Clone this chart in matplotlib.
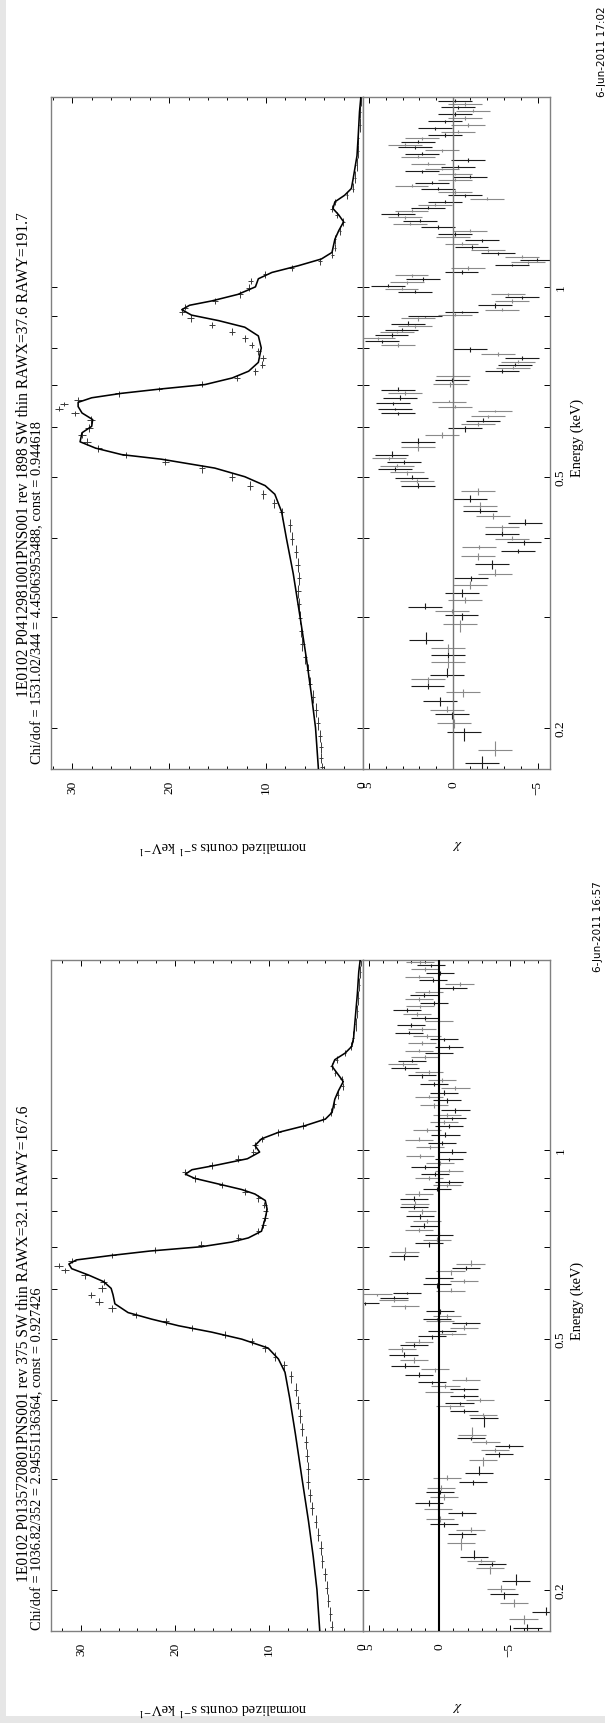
import numpy as np
import matplotlib
matplotlib.use("Agg")
import matplotlib.pyplot as plt
from matplotlib.ticker import FixedLocator, MultipleLocator, FixedFormatter, NullLocator, NullFormatter
from matplotlib.patches import Rectangle

plt.rcParams['font.family'] = ['Liberation Serif', 'DejaVu Serif']
plt.rcParams['mathtext.fontset'] = 'stix'
plt.rcParams['axes.unicode_minus'] = True

# ---------------------------------------------------------------- texts
top_title = "1E0102 P0412981001PNS001 rev 1898 SW thin RAWX=37.6 RAWY=191.7"
top_fit = "Chi/dof = 1531.02/344 = 4.45063953488, const = 0.944618"
top_date = "6-Jun-2011 17:02"
bot_title = "1E0102 P0135720801PNS001 rev 375 SW thin RAWX=32.1 RAWY=167.6"
bot_fit = "Chi/dof = 1036.82/352 = 2.94551136364, const = 0.927426"
bot_date = "6-Jun-2011 16:57"
ylabel_text = r"normalized counts s$^{-1}$ keV$^{-1}$"
chi_label_text = r"$\chi$"
xlabel_text = "Energy (keV)"

# ---------------------------------------------------------------- axis values
energy_ticks = [0.2, 0.3, 0.4, 0.5, 0.6, 0.7, 0.8, 0.9, 1.0, 2.0]
energy_tick_labels = ["0.2", "", "", "0.5", "", "", "", "", "1", ""]
energy_range = (0.172, 2.0)
top_counts_range = (32.2, 0.0)
top_chi_range = (5.34, -5.72)
bot_counts_range = (33.2, 0.0)
bot_chi_range = (5.43, -7.86)

# ---------------------------------------------------------------- top panel (rev 1898)
top_model_E = [0.172, 0.200, 0.224, 0.255, 0.300, 0.351, 0.399, 0.440, 0.469, 0.484,
               0.500, 0.516, 0.533, 0.542, 0.555, 0.568, 0.587, 0.601, 0.616, 0.631,
               0.646, 0.656, 0.667, 0.678, 0.689, 0.700, 0.717, 0.735, 0.759, 0.800,
               0.836, 0.863, 0.884, 0.902, 0.920, 0.935, 0.950, 0.973, 1.000, 1.030,
               1.054, 1.080, 1.107, 1.134, 1.190, 1.228, 1.268, 1.300, 1.331, 1.364,
               1.397, 1.432, 1.489, 1.614, 1.749, 1.895, 2.000]
top_model_counts = [4.6, 4.9, 5.3, 5.8, 6.5, 7.2, 7.9, 8.4, 9.1, 10.1,
                    12.2, 15.3, 20.8, 24.9, 27.6, 29.2, 29.0, 28.0, 27.9, 29.0,
                    29.4, 29.4, 28.0, 24.9, 20.8, 16.3, 13.5, 11.8, 10.8, 10.5,
                    10.8, 12.2, 14.9, 17.7, 18.7, 17.9, 15.6, 12.9, 11.1, 10.8,
                    9.4, 6.7, 4.3, 3.2, 2.9, 2.5, 2.0, 2.5, 3.1, 2.9,
                    1.9, 1.2, 1.0, 0.62, 0.48, 0.36, 0.22]

top_data_E = [0.1731, 0.1788, 0.1861, 0.1937, 0.2032, 0.2133, 0.2239, 0.2349, 0.2465, 0.2587,
              0.2714, 0.2848, 0.2988, 0.3136, 0.3291, 0.3453, 0.3623, 0.3802, 0.3990, 0.4188,
              0.4394, 0.4538, 0.4686, 0.4840, 0.4995, 0.5161, 0.5285, 0.5415, 0.5546, 0.5681,
              0.5821, 0.5963, 0.6158, 0.6307, 0.6410, 0.6514, 0.6620, 0.6781, 0.6891, 0.7002,
              0.7172, 0.7351, 0.7526, 0.7710, 0.7898, 0.8089, 0.8286, 0.8489, 0.8695, 0.8909,
              0.9128, 0.9273, 0.9499, 0.9732, 0.9968, 1.0212, 1.0462, 1.0715, 1.0977, 1.1243,
              1.1519, 1.1902, 1.2284, 1.2689, 1.2995, 1.3310, 1.3636, 1.3969, 1.4312, 1.4894,
              1.5629, 1.6403, 1.7213, 1.8061, 1.8950, 1.9730]
top_data_counts = [4.26, 4.33, 4.30, 4.43, 4.60, 4.88, 5.12, 5.46, 5.64, 5.98,
                   6.25, 6.39, 6.50, 6.60, 6.67, 6.60, 6.74, 6.94, 7.35, 7.53,
                   8.38, 9.14, 10.3, 11.65, 13.5, 16.6, 20.4, 24.5, 27.3, 28.5,
                   29.0, 28.3, 28.1, 29.7, 31.4, 30.9, 29.4, 25.2, 21.1, 16.6,
                   13.0, 11.1, 10.4, 10.3, 10.8, 11.5, 12.2, 13.5, 15.6, 17.8,
                   18.7, 18.4, 15.3, 12.7, 11.8, 11.6, 10.1, 7.35, 4.43, 3.16,
                   2.89, 2.89, 2.37, 2.03, 2.71, 3.23, 2.89, 1.68, 1.00, 0.82,
                   0.65, 0.48, 0.48, 0.31, 0.31, 0.21]
top_data_err = [0.20, 0.20, 0.20, 0.20, 0.20, 0.21, 0.21, 0.21, 0.21, 0.22,
                0.22, 0.22, 0.22, 0.22, 0.22, 0.22, 0.23, 0.23, 0.23, 0.23,
                0.24, 0.25, 0.26, 0.28, 0.30, 0.33, 0.36, 0.38, 0.40, 0.40,
                0.40, 0.40, 0.40, 0.40, 0.42, 0.42, 0.40, 0.38, 0.36, 0.33,
                0.30, 0.28, 0.28, 0.28, 0.28, 0.28, 0.29, 0.30, 0.31, 0.32,
                0.33, 0.33, 0.32, 0.30, 0.28, 0.28, 0.27, 0.24, 0.18, 0.15,
                0.15, 0.15, 0.14, 0.13, 0.14, 0.15, 0.15, 0.12, 0.10, 0.09,
                0.08, 0.07, 0.07, 0.06, 0.06, 0.05]

top_res_E = [0.1759, 0.1846, 0.1968, 0.2032, 0.2099, 0.2133, 0.2203, 0.2275, 0.2331, 0.2385,
             0.2424, 0.2544, 0.2606, 0.2671, 0.2758, 0.2917, 0.3013, 0.3062, 0.3111, 0.3187,
             0.3265, 0.3371, 0.3453, 0.3509, 0.3636, 0.3743, 0.3815, 0.3865, 0.3941, 0.3990,
             0.4055, 0.4154, 0.4221, 0.4337, 0.4408, 0.4501, 0.4611, 0.4745, 0.4840, 0.4918,
             0.4982, 0.5078, 0.5144, 0.5201, 0.5285, 0.5346, 0.5415, 0.5572, 0.5681, 0.5821,
             0.5963, 0.6060, 0.6138, 0.6237, 0.6307, 0.6358, 0.6410, 0.6441, 0.6546, 0.6568,
             0.6673, 0.6781, 0.6869, 0.7026, 0.7117, 0.7233, 0.7351, 0.7446, 0.7530, 0.7614,
             0.7713, 0.7834, 0.7961, 0.8089, 0.8194, 0.8286, 0.8380, 0.8489, 0.8557, 0.8654,
             0.8738, 0.8909, 0.8981, 0.9024, 0.9128, 0.9200, 0.9348, 0.9499, 0.9623, 0.9732,
             0.9811, 0.9938, 1.0049, 1.0163, 1.0295, 1.0428, 1.0546, 1.0715, 1.0837, 1.0942,
             1.1048, 1.1156, 1.1298, 1.1426, 1.1556, 1.1706, 1.1858, 1.1992, 1.2127, 1.2284,
             1.2444, 1.2585, 1.2728, 1.2891, 1.3058, 1.3206, 1.3356, 1.3486, 1.3636, 1.3790,
             1.3969, 1.4151, 1.4312, 1.4473, 1.4614, 1.4779, 1.4947, 1.5092, 1.5239, 1.5382,
             1.5505, 1.5680, 1.5883, 1.6089, 1.6271, 1.6452, 1.6667, 1.6801, 1.6992, 1.7213,
             1.7408, 1.7630, 1.7830, 1.8061, 1.8295, 1.8503, 1.8801, 1.9011, 1.9258, 1.9508,
             1.9730]
top_res_chi = [-1.68, -2.47, -0.65, -0.06, 0.10, 0.35, 0.79, -0.59, 1.52, 1.48,
               0.39, 0.30, 0.30, 0.30, 1.62, -0.39, -0.49, 0.10, 1.68, -0.69,
               -0.53, -0.99, -1.05, -2.47, -2.27, -1.48, -3.85, -1.52, -4.18, -3.49,
               -2.86, -2.86, -4.24, -2.37, -1.58, -1.58, -0.99, -1.48, 2.07, 2.17,
               2.47, 2.76, 3.45, 3.35, 2.90, 3.81, 3.65, 2.07, 2.07, 0.65,
               -0.69, -1.48, -1.78, -2.07, 3.25, -2.47, 3.45, -0.10, 3.55, 0.26,
               3.16, 2.86, 3.25, 0.20, 0.10, 0.00, -2.86, -3.55, -3.65, -3.85,
               -4.04, -2.66, -0.99, 3.25, 4.24, 4.44, 3.65, 3.35, 3.06, 2.27,
               2.66, 2.07, 1.68, -0.10, -0.49, -2.86, -2.47, -3.45, -4.04, -3.25,
               2.27, 3.06, 3.85, 2.76, 1.78, 2.47, -0.49, -0.89, -3.45, -4.44,
               -4.93, -4.04, -2.66, -2.07, -1.08, -0.49, -1.68, 0.00, -0.10, -0.99,
               0.89, 2.56, 1.97, 2.86, 3.25, 2.47, 1.48, 1.08, 0.49, -1.97,
               -0.69, -0.10, 0.89, 2.47, 1.28, -0.10, -0.99, -0.10, 1.87, 0.69,
               -0.30, 1.48, -0.89, 2.07, 1.87, 0.69, 2.27, 2.86, 2.07, 1.87,
               0.49, -0.30, 1.08, -0.89, 0.49, -0.69, -0.10, -1.18, -0.30, -0.69,
               -0.10]

# ---------------------------------------------------------------- bottom panel (rev 375)
bot_model_E = [0.172, 0.200, 0.226, 0.257, 0.301, 0.354, 0.403, 0.443, 0.465, 0.484,
               0.500, 0.513, 0.525, 0.538, 0.551, 0.569, 0.588, 0.602, 0.617, 0.632,
               0.647, 0.658, 0.668, 0.679, 0.690, 0.701, 0.713, 0.724, 0.742, 0.778,
               0.804, 0.830, 0.850, 0.864, 0.879, 0.900, 0.914, 0.929, 0.944, 0.967,
               0.991, 1.015, 1.040, 1.065, 1.091, 1.118, 1.145, 1.202, 1.241, 1.282,
               1.313, 1.356, 1.389, 1.423, 1.458, 1.505, 1.632, 1.768, 1.916, 2.000]
bot_model_counts = [4.6, 4.9, 5.3, 5.8, 6.5, 7.2, 7.8, 8.3, 9.0, 10.1,
                    12.9, 16.1, 19.6, 22.5, 25.0, 26.4, 26.6, 26.8, 27.6, 29.2,
                    31.0, 31.3, 30.5, 26.8, 22.7, 17.2, 14.0, 12.2, 10.8, 10.4,
                    10.2, 10.4, 11.5, 12.9, 15.0, 17.9, 18.9, 18.2, 15.7, 12.3,
                    11.0, 11.5, 10.8, 9.0, 6.2, 4.0, 3.3, 3.0, 2.6, 2.1,
                    2.6, 3.3, 3.0, 1.9, 1.2, 1.0, 0.8, 0.6, 0.45, 0.3]

bot_data_E = [0.1744, 0.1830, 0.1921, 0.2016, 0.2116, 0.2220, 0.2330, 0.2445, 0.2566, 0.2693,
              0.2826, 0.2966, 0.3112, 0.3266, 0.3427, 0.3597, 0.3776, 0.3962, 0.4158, 0.4364,
              0.4543, 0.4691, 0.4843, 0.4962, 0.5083, 0.5207, 0.5335, 0.5465, 0.5598, 0.5735,
              0.5875, 0.6018, 0.6166, 0.6317, 0.6440, 0.6545, 0.6650, 0.6792, 0.6925, 0.7067,
              0.7244, 0.7419, 0.7601, 0.7786, 0.7976, 0.8171, 0.8370, 0.8573, 0.8783, 0.8998,
              0.9219, 0.9443, 0.9674, 0.9910, 1.0153, 1.0400, 1.0654, 1.0914, 1.1180, 1.1454,
              1.1828, 1.2217, 1.2617, 1.2925, 1.3241, 1.3562, 1.3894, 1.4233, 1.4580, 1.5054,
              1.5800, 1.6585, 1.7402, 1.8263, 1.9165, 1.9953]
bot_data_counts = [3.33, 3.50, 3.69, 3.87, 4.04, 4.33, 4.45, 4.75, 5.04, 5.46,
                   5.64, 5.82, 5.82, 6.00, 6.10, 6.52, 6.70, 6.88, 7.16, 7.66,
                   8.37, 9.36, 10.43, 11.84, 14.7, 18.2, 21.0, 24.2, 26.7, 28.1,
                   28.9, 27.8, 27.6, 29.6, 31.7, 32.4, 31.0, 26.7, 22.1, 17.2,
                   13.26, 11.13, 10.6, 10.43, 10.36, 10.5, 11.13, 12.55, 15.0, 17.9,
                   18.9, 16.1, 13.26, 11.67, 11.49, 10.78, 9.0, 6.35, 4.22, 3.40,
                   3.05, 2.70, 2.16, 2.27, 2.98, 3.33, 2.80, 1.91, 1.28, 1.03,
                   0.78, 0.60, 0.50, 0.40, 0.29, 0.22]
bot_data_err = [0.17, 0.17, 0.17, 0.17, 0.18, 0.18, 0.18, 0.19, 0.19, 0.20,
                0.20, 0.20, 0.20, 0.21, 0.21, 0.21, 0.22, 0.22, 0.22, 0.23,
                0.24, 0.25, 0.27, 0.29, 0.31, 0.34, 0.37, 0.39, 0.40, 0.40,
                0.40, 0.40, 0.40, 0.41, 0.43, 0.43, 0.42, 0.39, 0.36, 0.33,
                0.30, 0.28, 0.28, 0.28, 0.28, 0.28, 0.29, 0.30, 0.31, 0.32,
                0.33, 0.33, 0.32, 0.30, 0.28, 0.28, 0.27, 0.24, 0.18, 0.15,
                0.15, 0.15, 0.14, 0.13, 0.14, 0.15, 0.15, 0.12, 0.10, 0.09,
                0.08, 0.07, 0.07, 0.06, 0.06, 0.05]

bot_res_E = [0.1740, 0.1795, 0.1846, 0.1908, 0.1966, 0.2008, 0.2064, 0.2168, 0.2200, 0.2221,
             0.2256, 0.2375, 0.2450, 0.2487, 0.2540, 0.2590, 0.2650, 0.2690, 0.2747, 0.2807,
             0.2860, 0.2900, 0.2965, 0.3010, 0.3067, 0.3220, 0.3281, 0.3333, 0.3381, 0.3430,
             0.3485, 0.3516, 0.3753, 0.3790, 0.3843, 0.3909, 0.3952, 0.4009, 0.4060, 0.4120,
             0.4167, 0.4207, 0.4271, 0.4313, 0.4381, 0.4478, 0.4531, 0.4638, 0.4723, 0.4825,
             0.4894, 0.4957, 0.5049, 0.5099, 0.5142, 0.5207, 0.5306, 0.5338, 0.5385, 0.5438,
             0.5541, 0.5636, 0.5708, 0.5760, 0.5813, 0.5888, 0.5923, 0.5960, 0.6108, 0.6182,
             0.6258, 0.6406, 0.6487, 0.6570, 0.6787, 0.6887, 0.7100, 0.7190, 0.7320, 0.7455,
             0.7563, 0.7701, 0.7841, 0.7985, 0.8100, 0.8204, 0.8352, 0.8505, 0.8658, 0.8770,
             0.8897, 0.9026, 0.9141, 0.9258, 0.9391, 0.9528, 0.9649, 0.9772, 0.9913, 1.0095,
             1.0240, 1.0371, 1.0560, 1.0752, 1.0908, 1.1046, 1.1207, 1.1350, 1.1554, 1.1766,
             1.1981, 1.2134, 1.2310, 1.2535, 1.2718, 1.2878, 1.3111, 1.3278, 1.3470, 1.3666,
             1.3841, 1.4017, 1.4220, 1.4350, 1.4531, 1.4743, 1.4958, 1.5146, 1.5339, 1.5560,
             1.5786, 1.5987, 1.6191, 1.6426, 1.6666, 1.6878, 1.7091, 1.7341, 1.7594, 1.7818,
             1.8047, 1.8309, 1.8576, 1.8814, 1.9053, 1.9330, 1.9611, 1.9861]
bot_res_chi = [-6.26, -5.98, -7.57, -5.33, -4.60, -4.36, -5.43, -3.60, -3.76, -2.93,
               -2.45, -1.55, -1.62, -2.21, -0.31, -0.07, -1.60, 0.12, 0.76, -0.31,
               -0.07, -0.10, -2.40, -0.55, -2.81, -3.10, -4.24, -3.93, -4.95, -3.33,
               -2.26, -2.33, -3.17, -3.10, -1.74, -0.74, -1.43, -2.86, -1.74, 0.05,
               -1.74, -0.43, 0.52, -1.86, 1.43, 0.29, 2.43, 1.83, 2.55, 2.67,
               1.83, 1.48, 0.52, -0.90, -0.19, -1.74, -1.86, -0.07, 0.17, -0.55,
               -0.07, 2.43, 5.29, 3.26, 3.20, 4.40, 2.31, -0.79, 0.17, -1.74,
               0.05, -0.79, -1.86, -2.21, 2.55, 2.43, 0.76, 0.17, 0.05, 1.48,
               1.12, 0.88, 1.36, 1.24, 1.83, 1.71, 1.83, 1.48, 0.17, -0.55,
               -0.67, 0.76, 0.29, -0.67, 1.00, -0.07, -0.67, 1.36, -0.90, 0.64,
               -0.19, 1.48, -0.43, 0.88, -0.67, -0.31, -0.90, -0.55, -1.14, 0.40,
               -0.55, 0.76, -0.31, -1.14, 0.36, -0.19, 1.24, 0.76, 2.43, 2.62,
               1.95, 1.00, 0.05, 1.48, -0.67, 1.24, -0.31, 0.88, 2.19, 1.24,
               2.00, 0.05, 1.00, 1.60, 2.31, 1.36, 0.36, 1.48, 1.12, 0.71,
               -0.95, -1.43, 0.48, 1.48, -0.07, 1.00, 0.57, 1.36]

# ---------------------------------------------------------------- figure
W, H = 605, 1724
fig = plt.figure(figsize=(W / 100, H / 100), dpi=100)
fig.patch.set_facecolor('white')
fig.add_artist(Rectangle((0, 0), 6 / W, 1, transform=fig.transFigure,
                         facecolor='#e6e6e6', edgecolor='none', zorder=0))
fig.add_artist(Rectangle((0, 0), 1, 7 / H, transform=fig.transFigure,
                         facecolor='#e6e6e6', edgecolor='none', zorder=0))

FRAME = '#808080'
TXT = 10.4
TICKTXT = 9.6


def fx(px):
    return px / W


def fy(py):
    return 1 - py / H


def px_axes(x0, y0, x1, y1):
    return fig.add_axes([x0 / W, 1 - y1 / H, (x1 - x0) / W, (y1 - y0) / H])


def bin_edges(E):
    E = np.asarray(E, dtype=float)
    mid = np.sqrt(E[:-1] * E[1:])
    lo = np.concatenate([[E[0] ** 2 / mid[0]], mid])
    hi = np.concatenate([mid, [E[-1] ** 2 / mid[-1]]])
    return E - lo, hi - E


def style_frame(ax):
    for sp in ax.spines.values():
        sp.set_color(FRAME)
        sp.set_linewidth(1.0)


def energy_axis(ax, labels_right):
    ax.set_yscale('log')
    ax.set_ylim(*energy_range)
    ax.yaxis.set_major_locator(FixedLocator(energy_ticks))
    ax.yaxis.set_minor_locator(NullLocator())
    if labels_right:
        ax.yaxis.set_major_formatter(FixedFormatter(energy_tick_labels))
    else:
        ax.yaxis.set_major_formatter(NullFormatter())
    ax.tick_params(axis='y', which='major', direction='in', left=True, right=True,
                   labelleft=False, labelright=labels_right, length=4.3, width=0.7,
                   color='black', labelrotation=90, pad=3.6, labelsize=TICKTXT)
    if labels_right:
        for t in ax.yaxis.get_major_ticks():
            t.label2.set_va('center')


def draw_panel(y0, y1, counts_range, chi_range, model_E, model_counts,
               data_E, data_counts, data_err, res_E, res_chi, zero_color, zero_lw,
               title, fit, title_y, fit_y, date, date_x, date_y):
    x0, xm, x1 = 51, 363, 550
    axc = px_axes(x0, y0, xm, y1)
    axr = px_axes(xm, y0, x1, y1)

    # counts panel
    axc.plot(model_counts, model_E, color='black', lw=1.15, zorder=3)
    dlo, dhi = bin_edges(data_E)
    axc.errorbar(data_counts, data_E, xerr=data_err, yerr=[dlo, dhi], fmt='none',
                 ecolor='#3a3a3a', elinewidth=0.7, capsize=0, zorder=2)
    axc.set_xlim(*counts_range)
    axc.xaxis.set_major_locator(MultipleLocator(10))
    axc.xaxis.set_minor_locator(MultipleLocator(2))
    axc.tick_params(axis='x', which='both', direction='in', top=True, bottom=True,
                    labelbottom=True, labelrotation=90, pad=7.9, labelsize=TICKTXT,
                    color='black', width=0.7)
    axc.tick_params(axis='x', which='major', length=4.3)
    axc.tick_params(axis='x', which='minor', length=2.2)
    energy_axis(axc, False)
    style_frame(axc)

    # residual panel
    rlo, rhi = bin_edges(res_E)
    res_E = np.asarray(res_E)
    res_chi = np.asarray(res_chi)
    ones = np.ones_like(res_chi)
    for start, col in ((0, '#1c1c1c'), (1, '#8a8a8a')):
        axr.errorbar(res_chi[start::2], res_E[start::2], xerr=ones[start::2],
                     yerr=[rlo[start::2], rhi[start::2]], fmt='none',
                     ecolor=col, elinewidth=0.8, capsize=0, zorder=2)
    axr.axvline(0, color=zero_color, lw=zero_lw, zorder=3)
    axr.set_xlim(*chi_range)
    axr.xaxis.set_major_locator(MultipleLocator(5))
    axr.xaxis.set_minor_locator(MultipleLocator(1))
    axr.tick_params(axis='x', which='both', direction='in', top=True, bottom=True,
                    labelbottom=True, labelrotation=90, pad=7.9, labelsize=TICKTXT,
                    color='black', width=0.7)
    axr.tick_params(axis='x', which='major', length=4.3)
    axr.tick_params(axis='x', which='minor', length=2.2)
    energy_axis(axr, True)
    style_frame(axr)

    # texts
    fig.text(fx(24), fy(title_y), title, rotation=90, ha='center', va='bottom',
             fontsize=11.2)
    fig.text(fx(38), fy(fit_y), fit, rotation=90, ha='center', va='bottom',
             fontsize=TXT)
    fig.text(fx(223), fy(y1 + 76), ylabel_text, rotation=180, ha='center',
             va='center', fontsize=TXT)
    fig.text(fx(457), fy(y1 + 75), chi_label_text, rotation=180, ha='center',
             va='center', fontsize=TXT)
    fig.text(fx(577.5), fy((y0 + y1) / 2 + 4), xlabel_text, rotation=90, ha='center',
             va='center', fontsize=TXT)
    fig.text(fx(date_x), fy(date_y), date, rotation=90, ha='center', va='bottom',
             fontsize=7.5, family=['DejaVu Sans'])


draw_panel(98, 770, top_counts_range, top_chi_range, top_model_E, top_model_counts,
           top_data_E, top_data_counts, top_data_err, top_res_E, top_res_chi,
           '#777777', 1.0, top_title, top_fit, 697, 764, top_date, 602, 97)
draw_panel(961, 1632, bot_counts_range, bot_chi_range, bot_model_E, bot_model_counts,
           bot_data_E, bot_data_counts, bot_data_err, bot_res_E, bot_res_chi,
           'black', 1.5, bot_title, bot_fit, 1582, 1630, bot_date, 598, 972)

fig.savefig('out.png', dpi=100)
